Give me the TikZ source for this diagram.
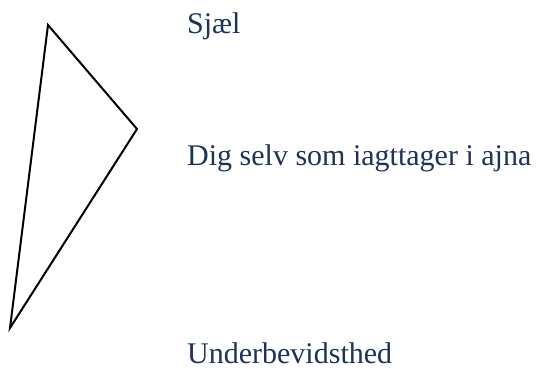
\documentclass[tikz,border=0pt]{standalone}
\usepackage{fontspec}
\setmainfont{Liberation Serif}
\definecolor{navy}{HTML}{1F3358}
\begin{document}
\begin{tikzpicture}[x=1pt,y=-1pt,
  lbl/.style={anchor=base west,inner sep=0pt,text=navy,font=\fontsize{30}{36}\selectfont},
  edge/.style={draw=black,line width=2pt,line join=miter}]
\useasboundingbox (0,0) rectangle (536,368);
\coordinate (top) at (48,25);
\coordinate (right) at (137,129);
\coordinate (bottom) at (10,328);
\draw[edge] (top) -- (right) -- (bottom) -- cycle;
\node[lbl] (sjael) at (187,33) {Sjæl};
\node[lbl] (dig) at (187,165) {Dig selv som iagttager i ajna};
\node[lbl] (under) at (187,363) {Underbevidsthed};
\end{tikzpicture}
\end{document}
